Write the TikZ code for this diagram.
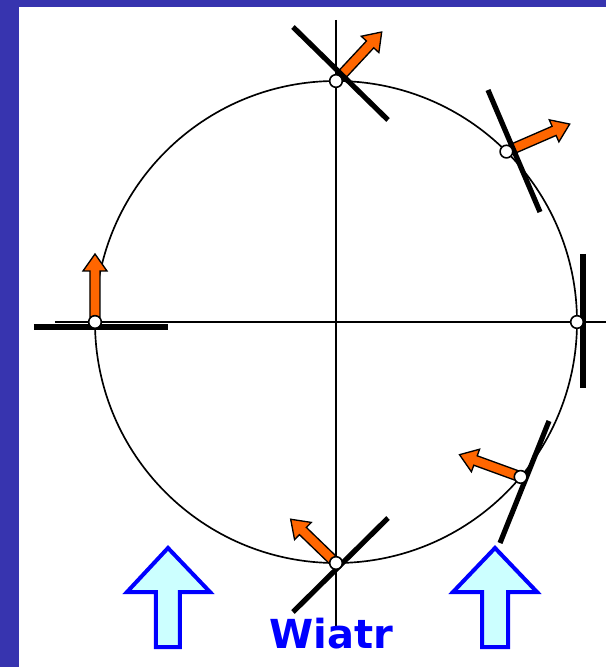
\documentclass[tikz,border=0pt]{standalone}
\usepackage{fontspec}
\usepackage{tikz}
\newfontfamily\windfont{DejaVu Sans}

\definecolor{framecol}{RGB}{55,52,175}
\definecolor{vanecol}{RGB}{255,102,0}
\definecolor{windfill}{RGB}{204,255,255}
\definecolor{windline}{RGB}{0,0,255}

\tikzset{
  pics/force/.style={code={
    \draw[vane] (5,-5) -- (#1-17,-5) -- (#1-17,-12) -- (#1,0)
      -- (#1-17,12) -- (#1-17,5) -- (5,5) -- cycle;
  }}
}

\begin{document}
\begin{tikzpicture}[x=0.75pt, y=0.75pt,
    axis/.style={line width=1.5pt},
    plate/.style={line width=3.9pt},
    vane/.style={draw=black, line width=1pt, fill=vanecol, line join=miter},
    hinge/.style={circle, draw, fill=white, line width=1.2pt, minimum size=9.5pt, inner sep=0pt},
    wind/.style={draw=windline, fill=windfill, line width=3pt, line join=miter},
    windtext/.style={text=windline, font=\windfont\bfseries\fontsize{30}{35}\selectfont}]
        \useasboundingbox (-336,-345) rectangle (270,322);

        % Frame
        \fill[white] (-336,-345) rectangle (270,322);
        \fill[framecol] (-336,-345) rectangle (-317,322);
        \fill[framecol] (-336,315) rectangle (270,322);

        % Orbit and axes
        \draw[line width=1.25pt] (0,0) circle (241);
        \draw[axis] (-281,0) -- (270,0);
        \draw[axis] (0,302) -- (0,-306);

        % Blade positions
        \coordinate (ptop) at (90:241);
        \coordinate (pne) at (45:241);
        \coordinate (pright) at (0:241);
        \coordinate (pse) at (-40:241);
        \coordinate (pbot) at (-90:241);
        \coordinate (pleft) at (180:241);

        % Forces
        \pic[rotate=47] at (ptop) {force=67};
        \pic[rotate=23.5] at (pne) {force=69};
        \pic[rotate=160] at (pse) {force=65};
        \pic[rotate=136] at (pbot) {force=63};
        \pic[rotate=90] at (pleft) {force=68};

        % Blades
        \draw[plate] (-43,295) -- (52,202);
        \draw[plate] (152,232) -- (204,110);
        \draw[plate] (247,68) -- (247,-66);
        \draw[plate] (213,-99) -- (164,-221);
        \draw[plate] (-43,-290) -- (52,-196);
        \draw[plate] (-302,-5) -- (-168,-5);

        % Hinges
        \node[hinge] (htop) at (ptop) {};
        \node[hinge] (hne) at (pne) {};
        \node[hinge] (hright) at (pright) {};
        \node[hinge] (hse) at (pse) {};
        \node[hinge] (hbot) at (pbot) {};
        \node[hinge] (hleft) at (pleft) {};

        % Wind
        \draw[wind] (-168,-226) -- (-126,-270) -- (-156,-270) -- (-156,-325)
          -- (-180,-325) -- (-180,-270) -- (-209,-270) -- cycle;
        \draw[wind] (159,-226) -- (201,-270) -- (172,-270) -- (172,-325)
          -- (146,-325) -- (146,-270) -- (117,-270) -- cycle;
        \node[windtext, anchor=base] (wiatr) at (-5,-326) {Wiatr};
      \end{tikzpicture}
\end{document}
